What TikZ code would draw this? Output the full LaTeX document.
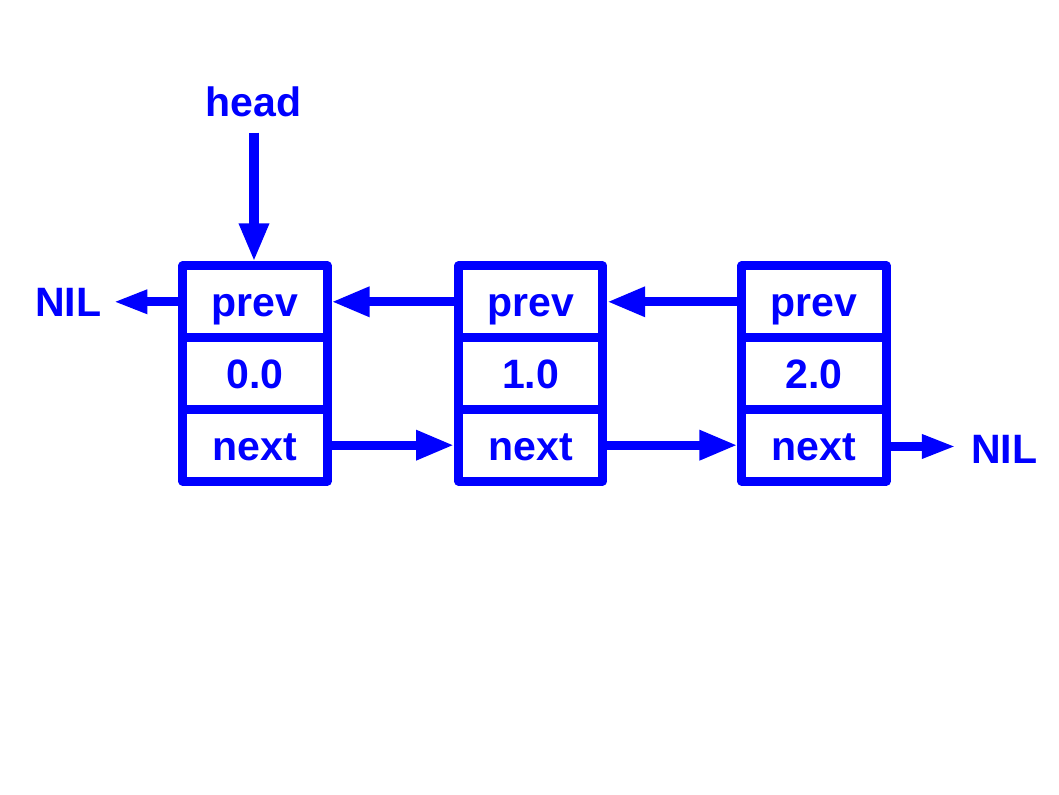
\documentclass[tikz,border=0pt]{standalone}
\usepackage{fontspec}
\setmainfont{Liberation Sans}
\usetikzlibrary{arrows.meta}
\definecolor{lb}{RGB}{0,0,255}
\begin{document}
\begin{tikzpicture}[x=0.01cm,y=-0.01cm,
  lbl/.style={font=\fontsize{11.67pt}{14pt}\selectfont\bfseries, text=lb, inner sep=0pt},
  cell/.style={lbl, draw=lb, line width=0.09cm, line join=round,
    minimum width=1.44cm, minimum height=0.717cm, outer sep=0.045cm,
    text height=0.3cm, text depth=0cm},
  arr/.style={draw=lb, line width=0.09cm, -{Triangle[length=0.38cm,width=0.28cm]}},
  nilarr/.style={draw=lb, line width=0.09cm, -{Triangle[length=0.34cm,width=0.22cm]}}]
\useasboundingbox (0,0) rectangle (1059,795);
% list elements
\node[cell] (p1) at (255,301.8) {prev};
\node[cell] (v1) at (255,373.5) {0.0};
\node[cell] (n1) at (255,445.2) {next};
\node[cell] (p2) at (530.6,301.8) {prev};
\node[cell] (v2) at (530.6,373.5) {1.0};
\node[cell] (n2) at (530.6,445.2) {next};
\node[cell] (p3) at (814,301.8) {prev};
\node[cell] (v3) at (814,373.5) {2.0};
\node[cell] (n3) at (814,445.2) {next};
% labels
\node[lbl, anchor=base] (head) at (253.4,116.7) {head};
\node[lbl, anchor=base west] (nilL) at (34.5,316.7) {NIL};
\node[lbl, anchor=base west] (nilR) at (970.5,463.3) {NIL};
\coordinate (headtail) at (254,132.7);
\coordinate (nilLtip) at (113.3,301.8);
\coordinate (nilRtip) at (956,446.5);
% connectors
\draw[arr] (headtail) -- (headtail |- p1.north);
\draw[nilarr] (p1.west) -- (nilLtip);
\draw[arr] (p2.west) -- (p1.east);
\draw[arr] (p3.west) -- (p2.east);
\draw[arr] (n1.east) -- (n2.west);
\draw[arr] (n2.east) -- (n3.west);
\draw[nilarr] (n3.east |- nilRtip) -- (nilRtip);
\end{tikzpicture}
\end{document}
